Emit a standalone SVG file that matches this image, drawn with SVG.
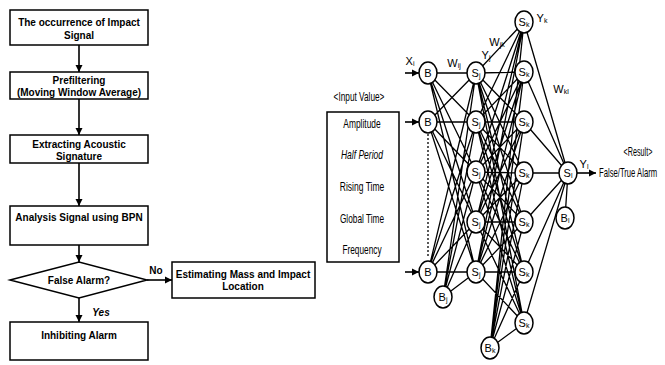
<svg xmlns="http://www.w3.org/2000/svg" width="665" height="365" viewBox="0 0 665 365">
<defs>
<marker id="ah" markerWidth="8" markerHeight="8" refX="7" refY="4" orient="auto" markerUnits="userSpaceOnUse">
<path d="M0,0.5 L7,4 L0,7.5 Z" fill="#000"/>
</marker>
<style>
.box{fill:#fff;stroke:#000;stroke-width:1.5}
.ft{font-family:"Liberation Sans",Arial,sans-serif;font-size:10px;font-weight:bold;fill:#000;text-anchor:middle;dominant-baseline:central}
.nt{font-family:"Liberation Sans",Arial,sans-serif;font-size:11px;fill:#000;text-anchor:middle;dominant-baseline:central}
.lt{font-family:"Liberation Sans",Arial,sans-serif;font-size:12px;fill:#000;text-anchor:middle;dominant-baseline:central}
.sub{font-size:7px}
.arr{stroke:#000;stroke-width:1.6;fill:none;marker-end:url(#ah)}
.nd{fill:#fff;stroke:#000;stroke-width:1.5}
.ln{stroke:#000;stroke-width:1.3;fill:none}
</style>
</defs>
<rect width="665" height="365" fill="#fff"/>

<g id="connectors">
<line class="arr" x1="79" y1="45" x2="79" y2="72"/>
<line class="arr" x1="79" y1="99" x2="79" y2="135"/>
<line class="arr" x1="79" y1="163" x2="79" y2="206"/>
<line class="arr" x1="79" y1="245" x2="79" y2="262"/>
<line class="arr" x1="147" y1="280" x2="172" y2="280"/>
<line class="arr" x1="79" y1="298" x2="79" y2="322"/>
<text class="ft" x="156" y="270" font-weight="normal">No</text>
<text class="ft" x="101" y="312" font-style="italic">Yes</text>
</g>

<g id="n1"><rect class="box" x="10" y="10" width="138" height="35"/>
<text class="ft" x="79" y="22">The occurrence of Impact</text>
<text class="ft" x="79" y="35">Signal</text></g>
<g id="n2"><rect class="box" x="10" y="72" width="138" height="27"/>
<text class="ft" x="79" y="80">Prefiltering</text>
<text class="ft" x="79" y="92">(Moving Window Average)</text></g>
<g id="n3"><rect class="box" x="10" y="135" width="138" height="28"/>
<text class="ft" x="79" y="144">Extracting Acoustic</text>
<text class="ft" x="79" y="156">Signature</text></g>
<g id="n4"><rect class="box" x="10" y="206" width="138" height="39"/>
<text class="ft" x="79" y="217">Analysis Signal using BPN</text></g>
<g id="n5"><polygon class="box" points="10,280 79,262 147,280 79,298"/>
<text class="ft" x="79" y="280">False Alarm?</text></g>
<g id="n6"><rect class="box" x="172" y="262" width="143" height="36"/>
<text class="ft" x="243" y="274">Estimating Mass and Impact</text>
<text class="ft" x="243" y="286">Location</text></g>
<g id="n7"><rect class="box" x="10" y="322" width="138" height="38"/>
<text class="ft" x="79" y="335">Inhibiting Alarm</text></g>

<g id="input-box">
<text class="lt" transform="translate(359,97) scale(0.69,1)">&lt;Input Value&gt;</text>
<rect class="box" x="327" y="112" width="72" height="150"/>
<text class="lt" transform="translate(362,124) scale(0.7,1)">Amplitude</text>
<text class="lt" transform="translate(362,155) scale(0.71,1)" font-style="italic">Half Period</text>
<text class="lt" transform="translate(362,187) scale(0.71,1)">Rising Time</text>
<text class="lt" transform="translate(362,219) scale(0.69,1)">Global Time</text>
<text class="lt" transform="translate(362,250) scale(0.69,1)">Frequency</text>
</g>

<g id="network-connectors">
<path class="ln" d="M428,73L476,73M428,73L476,122M428,73L476,172M428,73L476,222M428,73L476,272
M428,122L476,73M428,122L476,122M428,122L476,172M428,122L476,222M428,122L476,272
M428,272L476,73M428,272L476,122M428,272L476,172M428,272L476,222M428,272L476,272
M443,297L476,73M443,297L476,122M443,297L476,172M443,297L476,222M443,297L476,272"/>
<path class="ln" d="M476,73L524,22M476,73L524,72M476,73L524,122M476,73L524,173M476,73L524,222M476,73L524,272M476,73L524,323
M476,122L524,22M476,122L524,72M476,122L524,122M476,122L524,173M476,122L524,222M476,122L524,272M476,122L524,323
M476,172L524,22M476,172L524,72M476,172L524,122M476,172L524,173M476,172L524,222M476,172L524,272M476,172L524,323
M476,222L524,22M476,222L524,72M476,222L524,122M476,222L524,173M476,222L524,222M476,222L524,272M476,222L524,323
M476,272L524,22M476,272L524,72M476,272L524,122M476,272L524,173M476,272L524,222M476,272L524,272M476,272L524,323
M490,348L524,22M490,348L524,72M490,348L524,122M490,348L524,173M490,348L524,222M490,348L524,272M490,348L524,323"/>
<path class="ln" d="M524,22L568,173M524,72L568,173M524,122L568,173M524,173L568,173M524,222L568,173M524,272L568,173M524,323L568,173M565,218L568,173"/>
<line class="ln" x1="428" y1="134" x2="428" y2="258" stroke-dasharray="2,2" stroke-width="1.5"/>
<line class="arr" x1="405" y1="73" x2="419" y2="73"/>
<line class="arr" x1="405" y1="122" x2="419" y2="122"/>
<line class="arr" x1="405" y1="272" x2="419" y2="272"/>
<line class="arr" x1="577" y1="173" x2="596" y2="173"/>
</g>

<g id="labels">
<text class="nt" x="410" y="61">X<tspan class="sub" dy="2">i</tspan></text>
<text class="nt" x="454" y="63">W<tspan class="sub" dy="2">ij</tspan></text>
<text class="nt" x="486" y="55">Y<tspan class="sub" dy="2">j</tspan></text>
<text class="nt" x="497" y="42">W<tspan class="sub" dy="2">jk</tspan></text>
<text class="nt" x="542" y="18">Y<tspan class="sub" dy="2">k</tspan></text>
<text class="nt" x="561" y="89">W<tspan class="sub" dy="2">kl</tspan></text>
<text class="nt" x="584" y="164">Y<tspan class="sub" dy="2">l</tspan></text>
<text class="lt" transform="translate(638,152) scale(0.6,1)">&lt;Result&gt;</text>
<text class="lt" transform="translate(599,173) scale(0.64,1)" style="text-anchor:start">False/True Alarm</text>
</g>

<g id="in1"><ellipse class="nd" cx="428" cy="73" rx="9" ry="11"/><text class="nt" x="428" y="73">B</text></g>
<g id="in2"><ellipse class="nd" cx="428" cy="122" rx="9" ry="11"/><text class="nt" x="428" y="122">B</text></g>
<g id="in3"><ellipse class="nd" cx="428" cy="272" rx="9" ry="11"/><text class="nt" x="428" y="272">B</text></g>
<g id="bj"><ellipse class="nd" cx="443" cy="297" rx="9" ry="11"/><text class="nt" x="443" y="297">B<tspan class="sub" dy="2">j</tspan></text></g>
<g id="hj1"><ellipse class="nd" cx="476" cy="73" rx="9" ry="11"/><text class="nt" x="476" y="73">S<tspan class="sub" dy="2">j</tspan></text></g>
<g id="hj2"><ellipse class="nd" cx="476" cy="122" rx="9" ry="11"/><text class="nt" x="476" y="122">S<tspan class="sub" dy="2">j</tspan></text></g>
<g id="hj3"><ellipse class="nd" cx="476" cy="172" rx="9" ry="11"/><text class="nt" x="476" y="172">S<tspan class="sub" dy="2">j</tspan></text></g>
<g id="hj4"><ellipse class="nd" cx="476" cy="222" rx="9" ry="11"/><text class="nt" x="476" y="222">S<tspan class="sub" dy="2">j</tspan></text></g>
<g id="hj5"><ellipse class="nd" cx="476" cy="272" rx="9" ry="11"/><text class="nt" x="476" y="272">S<tspan class="sub" dy="2">j</tspan></text></g>
<g id="bk"><ellipse class="nd" cx="490" cy="348" rx="9" ry="11"/><text class="nt" x="490" y="348">B<tspan class="sub" dy="2">k</tspan></text></g>
<g id="hk1"><ellipse class="nd" cx="524" cy="22" rx="9" ry="11"/><text class="nt" x="524" y="22">S<tspan class="sub" dy="2">k</tspan></text></g>
<g id="hk2"><ellipse class="nd" cx="524" cy="72" rx="9" ry="11"/><text class="nt" x="524" y="72">S<tspan class="sub" dy="2">k</tspan></text></g>
<g id="hk3"><ellipse class="nd" cx="524" cy="122" rx="9" ry="11"/><text class="nt" x="524" y="122">S<tspan class="sub" dy="2">k</tspan></text></g>
<g id="hk4"><ellipse class="nd" cx="524" cy="173" rx="9" ry="11"/><text class="nt" x="524" y="173">S<tspan class="sub" dy="2">k</tspan></text></g>
<g id="hk5"><ellipse class="nd" cx="524" cy="222" rx="9" ry="11"/><text class="nt" x="524" y="222">S<tspan class="sub" dy="2">k</tspan></text></g>
<g id="hk6"><ellipse class="nd" cx="524" cy="272" rx="9" ry="11"/><text class="nt" x="524" y="272">S<tspan class="sub" dy="2">k</tspan></text></g>
<g id="hk7"><ellipse class="nd" cx="524" cy="323" rx="9" ry="11"/><text class="nt" x="524" y="323">S<tspan class="sub" dy="2">k</tspan></text></g>
<g id="out"><ellipse class="nd" cx="568" cy="173" rx="9" ry="11"/><text class="nt" x="568" y="173">S<tspan class="sub" dy="2">l</tspan></text></g>
<g id="bl"><ellipse class="nd" cx="565" cy="218" rx="9" ry="11"/><text class="nt" x="565" y="218">B<tspan class="sub" dy="2">l</tspan></text></g>
</svg>
